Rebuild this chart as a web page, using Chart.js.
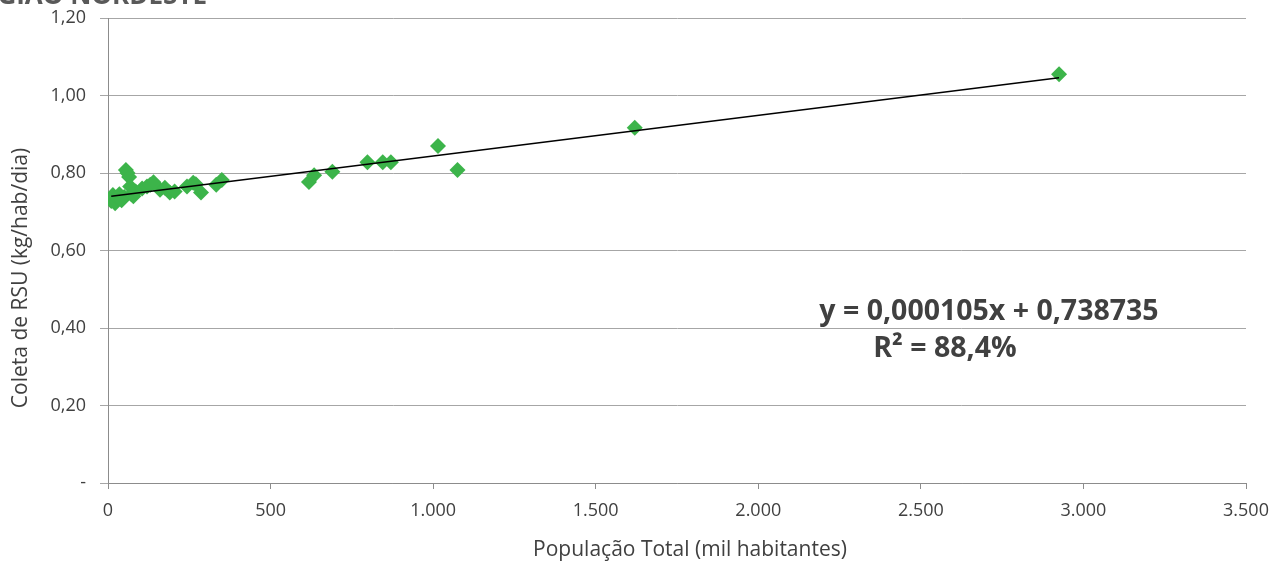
<!DOCTYPE html>
<html>
<head>
<meta charset="utf-8">
<script src="https://cdn.jsdelivr.net/npm/chart.js@4/dist/chart.umd.min.js"></script>
<style>
html,body{margin:0;padding:0;background:#fff;}
#wrap{width:1270px;height:562px;position:relative;}
</style>
</head>
<body>
<div id="wrap"><canvas id="c" width="1270" height="562"></canvas></div>
<script>
// Data
const popX = [10, 15, 22, 30, 35, 42, 50, 55, 60, 65, 68, 72, 78, 85, 105, 120, 130, 140, 160, 175, 190, 205, 243, 262, 270, 286, 333, 350, 618, 634, 690, 798, 845, 870, 1015, 1075, 1620, 2925];
const coletaY = [0.728, 0.743, 0.722, 0.735, 0.745, 0.730, 0.738, 0.808, 0.800, 0.790, 0.765, 0.745, 0.740, 0.752, 0.760, 0.765, 0.770, 0.776, 0.757, 0.762, 0.750, 0.752, 0.765, 0.775, 0.771, 0.750, 0.770, 0.782, 0.777, 0.794, 0.803, 0.828, 0.828, 0.828, 0.870, 0.808, 0.917, 1.055];
const trendX = [10, 2925];
const trendY = [0.740, 1.046];
const eqLine1 = 'y = 0,000105x + 0,738735';
const eqLine2 = 'R² = 88,4%';
const titleText = 'REGIÃO NORDESTE';
const xTitle = 'População Total (mil habitantes)';
const yTitle = 'Coleta de RSU (kg/hab/dia)';

function fmtThousands(v){
  const s = Math.round(v).toString();
  return s.replace(/\B(?=(\d{3})+(?!\d))/g, '.');
}
function fmtDec(v){
  if (Math.abs(v) < 1e-9) return '-';
  return v.toFixed(2).replace('.', ',');
}

const textColor = '#404040';
const font = "'Open Sans', sans-serif";

const overlay = {
  id: 'overlay',
  afterDraw(chart){
    const ctx = chart.ctx;
    ctx.save();
    ctx.fillStyle = '#404040';
    ctx.font = "bold 28.5px 'Open Sans', sans-serif";
    ctx.textAlign = 'center';
    ctx.textBaseline = 'alphabetic';
    ctx.fillText(eqLine1, 989, 320);
    ctx.fillText(eqLine2, 945, 357);
    ctx.fillStyle = '#595959';
    ctx.font = "bold 26px 'Open Sans', sans-serif";
    ctx.textAlign = 'right';
    ctx.fillText(titleText, 207, 4);
    // axis titles
    ctx.fillStyle = textColor;
    ctx.font = "21px 'Open Sans', sans-serif";
    ctx.textAlign = 'center';
    ctx.textBaseline = 'middle';
    ctx.fillText(xTitle, 690, 550);
    ctx.translate(21, 278);
    ctx.rotate(-Math.PI / 2);
    ctx.fillText(yTitle, 0, 0);
    ctx.restore();
  }
};

new Chart(document.getElementById('c'), {
  type: 'scatter',
  data: {
    datasets: [
      {
        label: 'Coleta',
        data: popX.map((x, i) => ({x: x, y: coletaY[i]})),
        pointStyle: 'rectRot',
        pointRadius: 8,
        pointHoverRadius: 8,
        backgroundColor: '#3cb44a',
        borderWidth: 0,
        order: 2
      },
      {
        label: 'Tendência',
        type: 'line',
        data: trendX.map((x, i) => ({x: x, y: trendY[i]})),
        borderColor: '#000000',
        borderWidth: 1.5,
        pointRadius: 0,
        fill: false,
        order: 1
      }
    ]
  },
  options: {
    responsive: false,
    animation: false,
    layout: {padding: {top: 18, right: 24, left: 0, bottom: 0}},
    plugins: {legend: {display: false}, tooltip: {enabled: false}},
    scales: {
      x: {
        type: 'linear',
        min: 0, max: 3500,
        afterFit(s){ s.height = 79; s.paddingLeft = 0; s.paddingRight = 0; },
        ticks: {
          stepSize: 500,
          color: textColor,
          font: {family: font, size: 18},
          padding: 11,
          maxRotation: 0,
          callback: (v) => fmtThousands(v)
        },
        grid: {drawOnChartArea: false, drawTicks: true, tickLength: 6, tickColor: '#8c8c8c'},
        border: {color: '#8c8c8c', width: 1},
        title: {display: false}
      },
      y: {
        min: 0, max: 1.2,
        afterFit(s){ s.width = 108; s.paddingTop = 0; s.paddingBottom = 0; },
        ticks: {
          stepSize: 0.2,
          color: textColor,
          font: {family: font, size: 18},
          padding: 14,
          callback: (v) => fmtDec(v)
        },
        grid: {color: '#a6a6a6', lineWidth: 1, drawTicks: true, tickLength: 8, tickColor: '#a6a6a6'},
        border: {color: '#8c8c8c', width: 1},
        title: {display: false}
      }
    }
  },
  plugins: [overlay]
});
</script>
</body>
</html>
